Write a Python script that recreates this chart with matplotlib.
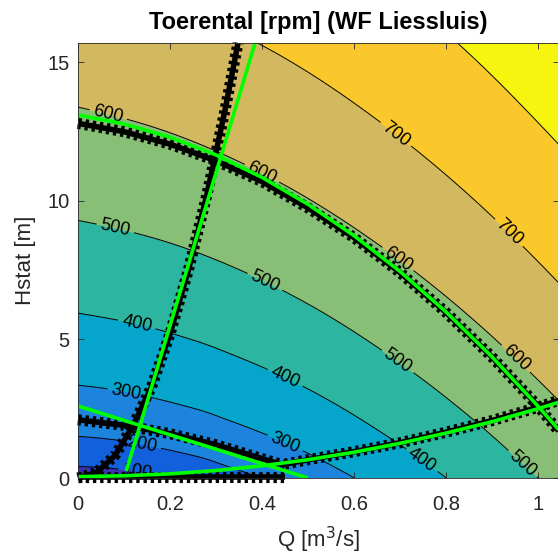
import numpy as np
import matplotlib
matplotlib.use("Agg")
import matplotlib.pyplot as plt
import matplotlib.tri as mtri

plt.rcParams['font.family'] = ['Liberation Sans', 'DejaVu Sans']

# ── data ────────────────────────────────────────────────────────────────────
# speed field [rpm] on a coarse (Q, Hstat) grid, rows = H_GRID, cols = Q_GRID
Q_GRID = [0.0, 0.15, 0.3, 0.45, 0.6, 0.75, 0.9, 1.05]
H_GRID = [0, 0.5, 1, 2, 3, 4, 6, 8, 10, 12, 14, 16]
RPM = [
    [0.0,   74.9,  149.8, 224.8, 299.7, 374.6, 449.6, 524.5],
    [116.0, 143.6, 194.7, 257.2, 324.9, 395.1, 466.8, 539.3],
    [164.0, 187.2, 230.1, 285.5, 347.9, 414.4, 483.3, 553.7],
    [231.9, 251.8, 287.1, 334.2, 389.5, 450.2, 514.4, 581.2],
    [284.1, 302.4, 333.8, 376.1, 426.5, 482.9, 543.6, 607.3],
    [328.0, 345.4, 374.4, 413.3, 460.3, 513.4, 571.0, 632.2],
    [401.7, 418.0, 443.9, 478.6, 520.6, 568.8, 621.9, 678.8],
    [463.9, 479.5, 503.5, 535.4, 574.2, 618.9, 668.4, 722.1],
    [518.6, 533.8, 556.5, 586.4, 622.8, 664.8, 711.6, 762.6],
    [568.1, 582.9, 604.7, 633.1, 667.6, 707.5, 752.1, 800.8],
    [613.6, 628.2, 649.2, 676.4, 709.4, 747.6, 790.3, 837.2],
    [656.0, 670.3, 690.8, 717.0, 748.7, 785.4, 826.6, 871.9],
]
LEVELS = [0, 100, 200, 300, 400, 500, 600, 700, 800, 900]
LINE_LEVELS = [100, 200, 300, 400, 500, 600, 700, 800]

# contour label anchor points (Q, H)
LABEL_POS = [
    (0.07, 13.4), (0.40, 11.0), (0.70, 8.0), (0.946, 4.2),
    (0.70, 12.6), (0.94, 8.9),
    (0.085, 9.3), (0.41, 7.2), (0.695, 4.2), (0.955, 0.3),
    (0.13, 5.7), (0.45, 3.6), (0.74, 0.45),
    (0.105, 3.1), (0.45, 1.25),
    (0.14, 1.25), (0.13, 0.3),
]

# green curves
G1_Q = [0.105, 0.385]
G1_H = [0.25, 15.7]
G2_Q = [0.0, 0.1, 0.2, 0.3, 0.4, 0.5, 0.6, 0.7, 0.8, 0.9, 1.0, 1.045]
G2_H = [13.1, 12.78, 12.3, 11.66, 10.85, 9.88, 8.75, 7.46, 6.0, 4.38, 2.6, 1.75]
G3_Q = [0.0, 0.5]
G3_H = [2.6, 0.0]
G4_Q = [0.0, 0.1, 0.2, 0.3, 0.4, 0.5, 0.6, 0.7, 0.8, 0.9, 1.0, 1.045]
G4_H = [0.05, 0.08, 0.15, 0.27, 0.44, 0.66, 0.93, 1.25, 1.62, 2.03, 2.5, 2.73]

# black marker chains
M1_Q = [0.0, 0.04, 0.08, 0.12, 0.16, 0.2, 0.24, 0.28, 0.32, 0.348]
M1_H = [0.0, 0.2, 0.8, 1.9, 3.3, 5.2, 7.5, 10.2, 13.3, 15.7]
M2_Q = [0.0, 0.1, 0.2, 0.3, 0.4, 0.5, 0.6, 0.7, 0.8, 0.9, 1.0, 1.045]
M2_H = [12.8, 12.5, 12.05, 11.45, 10.7, 9.75, 8.68, 7.42, 5.98, 4.37, 2.6, 1.7]
M3_Q = [0.0, 0.1, 0.2, 0.3, 0.4, 0.45]
M3_H = [2.1, 1.9, 1.6, 1.2, 0.7, 0.45]
M4_Q = [0.45, 0.5, 0.6, 0.7, 0.8, 0.9, 1.0, 1.045]
M4_H = [0.5, 0.66, 0.95, 1.27, 1.65, 2.07, 2.55, 2.8]
M5_Q = [0.0, 0.45]
M5_H = [0.05, 0.05]

BAND_COLORS = ['#3e30b0', '#1360dd', '#1d84dd', '#06a6cc', '#2cb5a0',
               '#87bf77', '#d2b95f', '#fbc82c', '#f5f510']
GREEN = '#00ff00'
TXT = '#262626'

# ── figure ──────────────────────────────────────────────────────────────────
fig = plt.figure(figsize=(5.58, 5.55), dpi=100)
ax = fig.add_axes([78 / 558, 77 / 555, 481 / 558, 435 / 555])

qq, hh = np.meshgrid(Q_GRID, H_GRID)
tri = mtri.Triangulation(qq.ravel(), hh.ravel())
refiner = mtri.UniformTriRefiner(tri)
tri_f, z_f = refiner.refine_field(np.array(RPM).ravel(), subdiv=4)

ax.tricontourf(tri_f, z_f, levels=LEVELS, colors=BAND_COLORS, zorder=1)
cs = ax.tricontour(tri_f, z_f, levels=LINE_LEVELS, colors='k',
                   linewidths=0.7, zorder=2)
ax.clabel(cs, manual=LABEL_POS, inline=True, fontsize=13, fmt='%d',
          inline_spacing=4)


def marker_chain(q, h):
    ax.plot(q, h, color='k', lw=4, solid_capstyle='butt', zorder=4,
            solid_joinstyle='round', clip_on=False)
    ax.plot(q, h, color='k', lw=8, ls=(0, (0.3, 0.35)), zorder=4,
            clip_on=False)


for q, h in [(M1_Q, M1_H), (M2_Q, M2_H), (M3_Q, M3_H), (M4_Q, M4_H),
             (M5_Q, M5_H)]:
    marker_chain(q, h)

for q, h in [(G1_Q, G1_H), (G2_Q, G2_H), (G3_Q, G3_H), (G4_Q, G4_H)]:
    ax.plot(q, h, color=GREEN, lw=2.6, zorder=5, solid_capstyle='butt',
            solid_joinstyle='round')

ax.set_xlim(0, 1.046)
ax.set_ylim(0, 15.7)
ax.set_xticks([0, 0.2, 0.4, 0.6, 0.8, 1.0])
ax.set_xticklabels(['0', '0.2', '0.4', '0.6', '0.8', '1'])
ax.set_yticks([0, 5, 10, 15])
ax.tick_params(direction='in', length=4, width=0.6, colors=TXT,
               labelsize=14.5, top=True, right=True)
ax.tick_params(axis='x', pad=12)
ax.tick_params(axis='y', pad=6)
for s in ax.spines.values():
    s.set_color(TXT)
    s.set_linewidth(0.6)
    s.set_zorder(6)

ax.set_xlabel('Q [m$^3$/s]', fontsize=16, color=TXT, labelpad=8)
ax.set_ylabel('Hstat [m]', fontsize=16, color=TXT, labelpad=8)
ax.set_title('Toerental [rpm] (WF Liessluis)', fontsize=17,
             fontweight='bold', pad=10)

fig.savefig('out.png', dpi=100)
